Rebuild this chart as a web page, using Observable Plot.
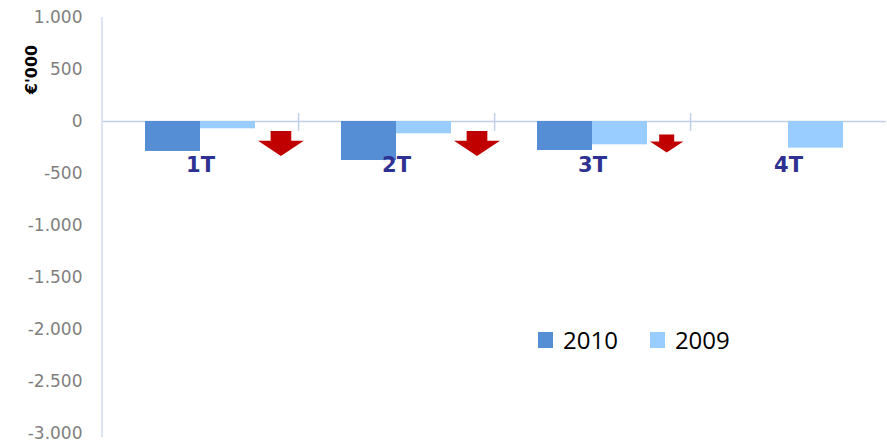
<!DOCTYPE html>
<html><head><meta charset="utf-8">
<script src="https://cdn.jsdelivr.net/npm/d3@7"></script>
<script src="https://cdn.jsdelivr.net/npm/@observablehq/plot@0.6"></script>
<style>
html,body{margin:0;padding:0;background:#fff;}
#wrap{position:relative;width:887px;height:444px;overflow:hidden;}
#legend{position:absolute;left:538px;top:324px;display:flex;align-items:center;font-family:"Open Sans",sans-serif;font-size:24px;color:#000;line-height:32px;}
#legend .item{display:flex;align-items:center;margin-right:32px;}
#legend .sw{width:15px;height:16px;margin-right:10px;}
</style></head>
<body><div id="wrap"><div id="chart"></div><div id="legend"></div></div>
<script>
const quarters = ["1T", "2T", "3T", "4T"];
const series = ["2010", "2009"];
const values2010 = [-288, -375, -279, null];
const values2009 = [-70, -118, -224, -256];
const yTicks = [1000, 500, 0, -500, -1000, -1500, -2000, -2500, -3000];
const yLabel = "€'000";
const seriesColors = ["#558ED5", "#99CCFF"];

const rows = [];
quarters.forEach((q, i) => {
  if (values2010[i] != null) rows.push({quarter: q, year: "2010", value: values2010[i]});
  if (values2009[i] != null) rows.push({quarter: q, year: "2009", value: values2009[i]});
});
const declines = quarters
  .map((q, i) => ({quarter: q, change: (values2010[i] != null && values2009[i] != null) ? values2009[i] - values2010[i] : 0}))
  .filter(d => d.change > 0);

const fmt = d3.formatLocale({decimal: ",", thousands: ".", grouping: [3], currency: ["", "€"], minus: "-"}).format(",");

const arrowSymbol = {
  draw(ctx, size) {
    const r = Math.sqrt(size / Math.PI);
    const sh = 0.45 * r, top = -0.54 * r, mid = -0.12 * r, tip = 0.54 * r;
    ctx.moveTo(r - sh, top);
    ctx.lineTo(r + sh, top);
    ctx.lineTo(r + sh, mid);
    ctx.lineTo(2 * r, mid);
    ctx.lineTo(r, tip);
    ctx.lineTo(0, mid);
    ctx.lineTo(r - sh, mid);
    ctx.closePath();
  }
};

const chart = Plot.plot({
  width: 887, height: 444,
  marginLeft: 101, marginRight: 1, marginTop: 17, marginBottom: 11,
  style: {fontFamily: "DejaVu Sans", background: "white"},
  fx: {domain: quarters, padding: 0, axis: null},
  x: {domain: series, paddingInner: 0, paddingOuter: 0.768, axis: null},
  y: {domain: [-3000, 1000]},
  color: {domain: series, range: seriesColors},
  r: {type: "linear", domain: [50, 220], range: [16.5, 23], clamp: true},
  marks: [
    Plot.ruleY([0], {stroke: "#C3CFE6", strokeWidth: 1.5}),
    Plot.barY(rows, {fx: "quarter", x: "year", y: "value", fill: "year"}),
    Plot.ruleX(quarters.slice(1), {fx: d => d, x: () => "2010", dx: -70.4, y1: 75, y2: -95, stroke: "#C3CFE6", strokeWidth: 1.5}),
    Plot.ruleX(quarters.slice(0, 1), {fx: d => d, x: () => "2010", dx: -71, y1: 1000, y2: -3040, stroke: "#D3DCEE", strokeWidth: 1.5}),
    Plot.dot(declines, {fx: "quarter", x: () => "2009", y: () => 0, dx: 30, dy: 22, r: "change", symbol: arrowSymbol, fill: "#C00000", stroke: "none"}),
    Plot.text(quarters, {fx: d => d, y: () => 0, text: d => d, dy: 44, fontSize: 21, fontWeight: "bold", fill: "#2E3192", fontFamily: "DejaVu Sans"}),
    Plot.text([yLabel], {fx: () => quarters[0], frameAnchor: "top-left", dx: -71, dy: 52, rotate: -90, textAnchor: "middle", lineAnchor: "middle", fontSize: 16, fontWeight: "bold", fill: "#000"}),
    Plot.axisY(yTicks, {tickSize: 0, tickPadding: 20, tickFormat: fmt, fill: "#7F7F7F", fontSize: 17, fontFamily: "DejaVu Sans", label: null})
  ]
});
document.getElementById("chart").appendChild(chart);

const legend = document.getElementById("legend");
series.forEach((s, i) => {
  const item = document.createElement("div");
  item.className = "item";
  const sw = document.createElement("div");
  sw.className = "sw";
  sw.style.background = seriesColors[i];
  const t = document.createElement("span");
  t.textContent = s;
  item.appendChild(sw); item.appendChild(t);
  legend.appendChild(item);
});
</script>
</body></html>
